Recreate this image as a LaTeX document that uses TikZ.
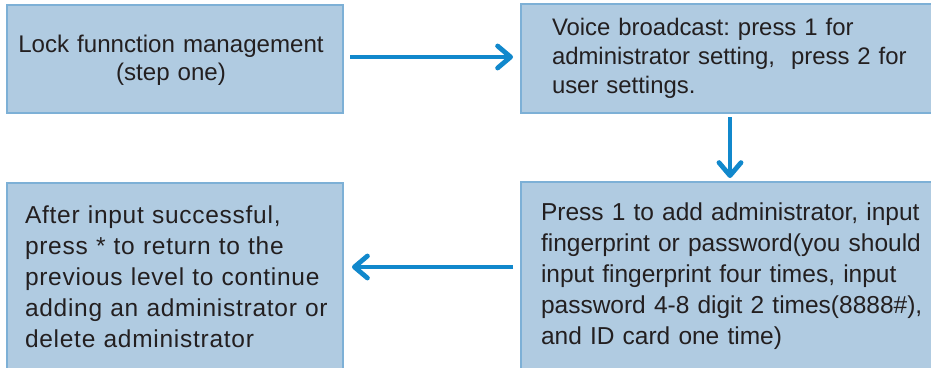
\documentclass[tikz,border=0pt]{standalone}
\usepackage{fontspec}
\setmainfont{Liberation Sans}
\usetikzlibrary{arrows.meta}
\definecolor{boxfill}{HTML}{B0CBE1}
\definecolor{boxline}{HTML}{7DB0D6}
\definecolor{arrowblue}{HTML}{1188CC}
\definecolor{textdark}{HTML}{231F20}
\tikzset{
  box/.style={draw=boxline, fill=boxfill, line width=2.5pt, rectangle, inner sep=0pt, outer sep=0pt, anchor=north west},
  boxtext/.style={inner sep=0pt, outer sep=0pt, text=textdark, align=left, text width=390pt, anchor=base west},
  arr/.style={draw=arrowblue, line width=4.8pt, -{Straight Barb[length=13pt, width=22pt, round]}}
}
\frenchspacing
\begin{document}
\begin{tikzpicture}[x=1pt, y=-1pt]
\useasboundingbox (0,0) rectangle (931,367);
\clip (0,0) rectangle (931,367);
\fill[white] (0,0) rectangle (931,367);
% boxes
\node[box, minimum width=336pt, minimum height=108pt] (b1) at (7,5) {};
\node[box, minimum width=418pt, minimum height=109pt] (b2) at (521,4) {};
\node[box, minimum width=336pt, minimum height=200pt] (b3) at (7,183) {};
\node[box, minimum width=418pt, minimum height=200pt] (b4) at (521,182) {};
% texts
\node[boxtext, text width=330pt, align=center, anchor=base, font=\fontsize{24.1}{28}\selectfont] (t1) at (171,52)
  {Lock funnction management\\(step one)};
\node[boxtext, font=\fontsize{23.9}{29}\selectfont] (t2) at (552,35)
  {Voice broadcast: press 1 for\\administrator setting,\ \ press 2 for\\user settings.};
\node[boxtext, font=\addfontfeatures{LetterSpace=3}\fontsize{24.5}{31}\selectfont] (t3) at (25,223)
  {After input successful,\\press * to return to the\\previous level to continue\\adding an administrator or\\delete administrator};
\node[boxtext, font=\fontsize{24.5}{31.2}\selectfont] (t4) at (541,220)
  {Press 1 to add administrator, input\\fingerprint or password(you should\\input fingerprint four times, input\\password 4-8 digit 2 times(8888\#),\\and ID card one time)};
% arrows
\coordinate (r1) at (0,57);
\coordinate (r3) at (0,267);
\draw[arr, shorten <=7pt, shorten >=8pt] (r1 -| b1.east) -- (r1 -| b2.west);
\draw[arr, shorten <=4pt, shorten >=4pt] (b2.south) -- (b4.north);
\draw[arr, shorten <=8pt, shorten >=9pt] (r3 -| b4.west) -- (r3 -| b3.east);
\end{tikzpicture}
\end{document}
